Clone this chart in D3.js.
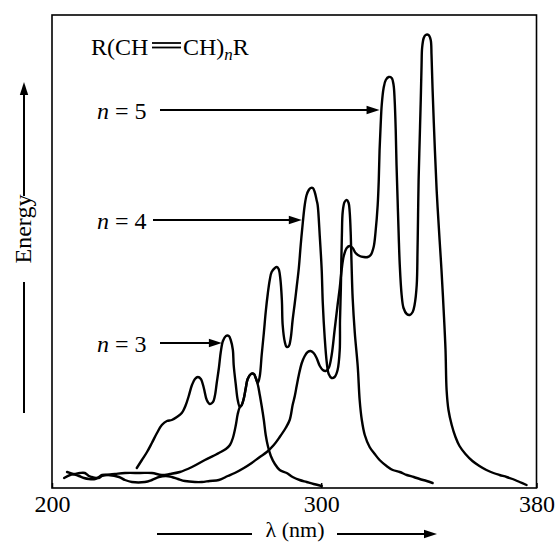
<!DOCTYPE html>
<html>
<head>
<meta charset="utf-8">
<script src="https://cdn.jsdelivr.net/npm/d3@7"></script>
<style>
  body { margin: 0; background: #fff; }
  svg { display: block; }
  text { font-family: "Liberation Serif", "Times New Roman", serif; fill: #000; }
</style>
</head>
<body>
<div id="chart"></div>
<script>
// wavelength (nm), relative absorbance (arbitrary units)
const spectrumN3 = [
  [231.5,2.0],[233.4,2.8],[235.3,3.6],[237.1,4.5],[239.0,5.5],[240.8,6.3],[242.7,6.7],[244.5,6.8],
  [246.4,7.1],[248.2,7.5],[249.7,8.3],[250.8,9.2],[252.0,10.3],[253.1,10.9],[254.2,11.1],[255.3,10.9],
  [256.4,10.0],[257.5,8.8],[258.6,8.4],[259.8,8.6],[260.5,9.2],[261.2,10.5],[262.0,12.0],[262.7,13.6],
  [263.5,14.7],[264.6,15.2],[265.7,15.2],[266.4,14.8],[267.2,13.8],[267.5,12.3],[268.3,10.3],[269.0,8.8],
  [269.8,8.1],[270.5,8.3],[271.3,9.0],[272.0,10.0],[272.7,10.9],[273.9,11.4],[275.0,11.4],[275.7,11.0],
  [276.5,10.3],[277.2,9.3],[277.9,8.2],[278.7,6.8],[279.4,5.3],[280.2,4.2],[281.3,3.2],[282.8,2.4],
  [284.6,1.8],[287.2,1.5],[289.4,1.1],[292.0,0.8],[294.6,0.6],[297.2,0.4],[300.2,0.2]
];
const spectrumN4 = [
  [204.5,1.0],[206.7,1.3],[208.5,1.4],[210.4,1.5],[212.2,1.5],[213.7,1.2],[214.8,1.1],[216.3,1.0],
  [217.4,1.0],[218.6,1.2],[220.0,1.3],[223.4,1.4],[227.1,1.5],[232.7,1.5],[237.1,1.5],[240.8,1.3],
  [243.8,1.4],[247.5,1.6],[252.0,2.1],[256.8,2.8],[262.0,3.5],[264.6,3.9],[266.1,4.3],[267.2,5.0],
  [268.3,6.3],[269.0,7.4],[269.8,8.1],[270.5,8.3],[271.3,9.0],[272.0,10.0],[272.7,10.9],[273.9,11.4],
  [275.0,11.4],[275.7,11.0],[276.5,10.5],[277.2,11.2],[277.9,13.3],[278.7,15.5],[279.4,17.6],[280.2,19.5],
  [280.9,20.8],[281.6,21.6],[282.8,22.0],[283.5,22.1],[284.2,21.9],[284.8,21.0],[285.4,18.8],[285.7,16.3],
  [286.5,14.6],[287.2,14.1],[288.0,14.2],[288.7,15.0],[289.4,16.8],[290.2,18.5],[290.9,20.1],[291.7,22.0],
  [292.4,24.3],[293.2,26.6],[293.9,28.3],[294.6,29.3],[295.4,29.8],[296.1,30.0],[296.9,30.0],[297.6,29.6],
  [298.3,28.8],[298.7,28.3],[299.5,25.1],[300.2,21.8],[300.6,18.5],[301.3,15.1],[302.1,12.5],[302.8,11.4],
  [303.9,11.0],[305.0,11.1],[306.1,11.8],[306.9,13.8],[307.0,16.8],[307.3,19.8],[307.5,22.8],[307.7,25.3],
  [308.0,27.6],[308.7,28.6],[309.5,28.8],[310.2,28.5],[310.6,27.6],[311.0,25.3],[311.3,22.3],[311.7,19.0],
  [312.5,15.5],[313.6,12.1],[314.3,8.8],[315.1,6.8],[316.2,5.3],[318.0,4.1],[319.9,3.4],[321.7,2.8],
  [324.3,2.2],[326.6,1.8],[329.2,1.6],[331.8,1.3],[334.4,1.1],[336.6,0.9],[339.2,0.7],[341.4,0.5]
];
const spectrumN5 = [
  [205.6,1.6],[207.8,1.4],[210.0,1.2],[211.9,1.0],[213.7,0.9],[216.0,0.9],[217.4,1.1],[218.6,1.3],
  [220.8,1.3],[224.9,1.1],[227.1,0.8],[229.7,0.6],[234.5,0.6],[237.1,0.8],[239.7,1.1],[242.3,1.2],
  [244.5,1.1],[246.8,0.9],[249.4,0.7],[253.1,0.6],[255.7,0.6],[258.6,0.7],[262.0,0.8],[265.3,1.2],
  [267.9,1.5],[271.3,2.0],[274.2,2.5],[277.2,3.1],[279.8,3.6],[282.4,4.3],[284.6,5.1],[286.8,6.0],
  [288.3,6.8],[289.4,8.3],[290.2,9.2],[290.9,10.2],[291.7,11.3],[292.8,12.5],[293.9,13.2],[295.0,13.6],
  [296.1,13.7],[297.2,13.5],[298.3,13.0],[299.5,12.2],[300.6,11.8],[301.7,11.7],[302.8,12.0],[303.9,13.3],
  [305.0,15.8],[306.1,18.3],[306.9,20.0],[307.6,21.8],[308.4,23.2],[309.5,24.0],[310.6,24.2],[311.7,24.0],
  [312.8,23.5],[314.3,23.2],[315.8,23.1],[317.3,23.1],[318.4,23.3],[319.5,24.1],[320.2,25.6],[321.0,28.3],
  [321.4,30.8],[321.7,33.8],[322.1,36.3],[322.5,38.3],[323.2,40.0],[324.0,40.8],[325.1,41.1],[326.2,41.0],
  [326.9,40.3],[327.3,38.8],[327.7,35.8],[328.0,32.3],[328.4,28.8],[328.8,25.3],[329.2,22.3],[329.9,19.3],
  [330.6,18.0],[331.8,17.4],[332.9,17.3],[334.0,17.6],[334.7,18.3],[335.5,20.3],[335.8,23.8],[336.0,27.3],
  [336.2,30.8],[336.6,34.8],[337.0,38.8],[337.3,42.3],[337.5,44.0],[338.1,45.0],[338.8,45.3],[339.9,45.3],
  [340.7,44.8],[341.0,43.3],[341.4,39.8],[342.1,34.8],[342.9,29.8],[344.0,24.8],[344.7,21.8],[345.5,17.8],
  [346.2,13.8],[346.6,9.8],[347.3,7.8],[348.5,6.3],[349.9,5.1],[351.4,4.2],[353.6,3.4],[356.2,2.7],
  [358.8,2.2],[361.4,1.8],[364.0,1.5],[366.3,1.3],[368.9,1.1],[371.1,0.9],[373.7,0.6],[376.3,0.3]
];
const xTicks = [200, 300, 380];
const seriesN = ['3', '4', '5'];
// point on each spectrum that its label arrow touches (nm, absorbance)
const arrowTips = [[263.1, 14.5], [292.8, 26.8], [321.7, 37.8]];

const W = 556, H = 542;
const margin = { top: 15, left: 52 };
const width = 484.5, height = 473;

const svg = d3.select('#chart').append('svg').attr('width', W).attr('height', H);
const g = svg.append('g').attr('transform', `translate(${margin.left},${margin.top})`);

const x = d3.scaleLinear().domain([200, 380]).range([0, width]);
const y = d3.scaleLinear().domain([0, 47.3]).range([height, 0]);

function arrowHead(sel, tx, ty, dir) {
  // dir: 'right' or 'up'
  const L = 13, hw = 4.2;
  const pts = dir === 'right'
    ? [[tx, ty], [tx - L, ty - hw], [tx - L, ty + hw]]
    : [[tx, ty], [tx - hw, ty + L], [tx + hw, ty + L]];
  sel.append('path').attr('d', 'M' + pts.join('L') + 'Z').attr('fill', '#000');
}

// frame
g.append('rect').attr('width', width).attr('height', height)
  .attr('fill', 'none').attr('stroke', '#000').attr('stroke-width', 1.6);

// x axis (labels only, small inward tick)
const xAxis = g.append('g').attr('transform', `translate(0,${height})`)
  .call(d3.axisBottom(x).tickValues(xTicks).tickSizeInner(-5).tickSizeOuter(0)
    .tickPadding(7).tickFormat(d3.format('d')));
xAxis.select('.domain').remove();
xAxis.attr('font-family', null).attr('font-size', null);
xAxis.selectAll('line').attr('stroke-width', 1.5);
xAxis.selectAll('text').style('font-size', '24px');

// spectra
const line = d3.line()
  .x(d => x(d[0]))
  .y(d => y(d[1]))
  .curve(d3.curveCatmullRom.alpha(0.5));

[spectrumN3, spectrumN4, spectrumN5].forEach(data => {
  g.append('path').datum(data)
    .attr('fill', 'none')
    .attr('stroke', '#000')
    .attr('stroke-width', 2.4)
    .attr('stroke-linejoin', 'round')
    .attr('stroke-linecap', 'round')
    .attr('d', line);
});

// series labels with arrows
const labelY = [352, 229, 119];
const arrowStartX = [160, 153, 160];
seriesN.forEach((n, i) => {
  const t = svg.append('text').attr('x', 97).attr('y', labelY[i]).style('font-size', '24px');
  t.append('tspan').style('font-style', 'italic').text('n');
  t.append('tspan').text(' = ' + n);
  const tipX = margin.left + x(arrowTips[i][0]);
  const tipY = margin.top + y(arrowTips[i][1]);
  svg.append('line').attr('x1', arrowStartX[i]).attr('x2', tipX - 10)
    .attr('y1', tipY).attr('y2', tipY).attr('stroke', '#000').attr('stroke-width', 2);
  arrowHead(svg, tipX, tipY, 'right');
});

// formula
const title = svg.append('text').attr('x', 91).attr('y', 55).style('font-size', '24px');
title.append('tspan').text('R(CH');
title.append('tspan').attr('x', 183).text('CH)');
title.append('tspan').attr('dy', 5).style('font-style', 'italic').style('font-size', '17px').text('n');
title.append('tspan').attr('dy', -5).text('R');
[43, 47.5].forEach(yy => {
  svg.append('line').attr('x1', 152).attr('x2', 181).attr('y1', yy).attr('y2', yy)
    .attr('stroke', '#000').attr('stroke-width', 1.8);
});

// y label
svg.append('text').attr('transform', 'translate(31,229) rotate(-90)')
  .attr('text-anchor', 'middle').style('font-size', '24px').text('Energy');
svg.append('line').attr('x1', 24).attr('x2', 24).attr('y1', 196).attr('y2', 90)
  .attr('stroke', '#000').attr('stroke-width', 2);
arrowHead(svg, 24, 82, 'up');
svg.append('line').attr('x1', 24).attr('x2', 24).attr('y1', 282).attr('y2', 413)
  .attr('stroke', '#000').attr('stroke-width', 2);

// x label
svg.append('text').attr('x', 295).attr('y', 537).attr('text-anchor', 'middle')
  .style('font-size', '22px').text('λ (nm)');
svg.append('line').attr('x1', 157).attr('x2', 252).attr('y1', 534).attr('y2', 534)
  .attr('stroke', '#000').attr('stroke-width', 2);
svg.append('line').attr('x1', 337).attr('x2', 428).attr('y1', 534).attr('y2', 534)
  .attr('stroke', '#000').attr('stroke-width', 2);
arrowHead(svg, 437, 534, 'right');
</script>
</body>
</html>
